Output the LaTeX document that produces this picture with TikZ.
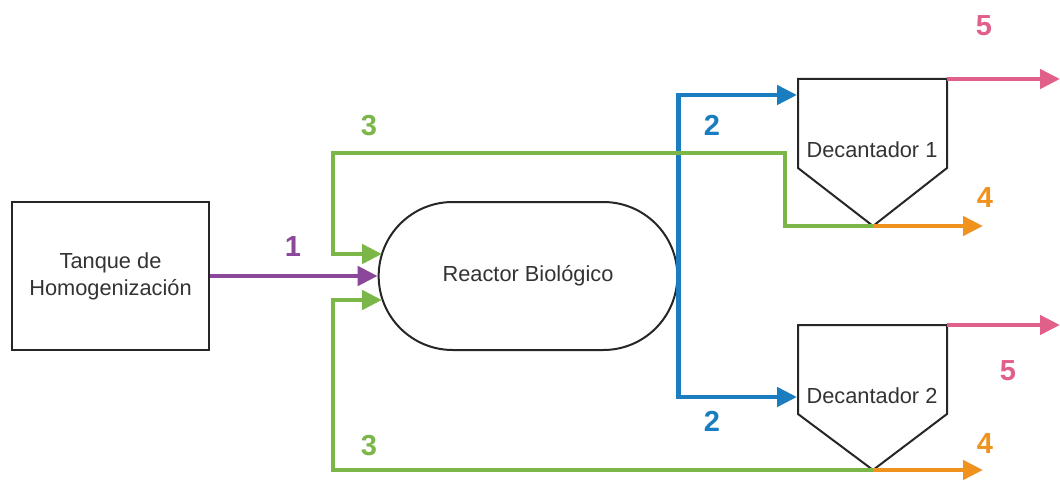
\documentclass[tikz,border=0pt]{standalone}
\usepackage{fontspec}
\setmainfont{Liberation Sans}
\usetikzlibrary{arrows.meta,shapes.misc}
\definecolor{flowpurple}{HTML}{8B4799}
\definecolor{flowgreen}{HTML}{7AB648}
\definecolor{flowblue}{HTML}{1A7DC0}
\definecolor{flowpink}{HTML}{E0608A}
\definecolor{floworange}{HTML}{F0921E}
\definecolor{inktext}{HTML}{333333}
\tikzset{
  unitbox/.style={draw=black!85, line width=1pt, fill=white, text=inktext,
    align=center, font=\fontsize{10.9}{13.5}\selectfont},
  unitline/.style={draw=black!85, line width=1pt, line join=miter},
  flow/.style={line width=2.3pt, -{Triangle[length=10pt,width=9.5pt]}},
  streamno/.style={font=\fontsize{14.5}{15}\selectfont\bfseries},
}
\begin{document}
\begin{tikzpicture}[x=0.5pt,y=-0.5pt]
\useasboundingbox (0,0) rectangle (1060,481);

% equipos
\node[unitbox, minimum width=98.5pt, minimum height=74pt] (tanque) at (110.5,276)
  {Tanque de\\Homogenización};
\node[unitbox, rounded rectangle, minimum width=156pt, minimum height=74pt] (reactor)
  at (528,276) {Reactor Biológico};

% decantador 1
\coordinate (d1tl) at (798,79);
\coordinate (d1tr) at (947,79);
\coordinate (d1tip) at (873,226);
\draw[unitline] (d1tl) -- (d1tr) -- (947,168) -- (d1tip) -- (798,168) -- cycle;
\node[text=inktext, font=\fontsize{10.9}{13}\selectfont] (dec1) at (872,150) {Decantador 1};

% decantador 2
\coordinate (d2tl) at (798,325);
\coordinate (d2tr) at (947,325);
\coordinate (d2tip) at (873,470);
\draw[unitline] (d2tl) -- (d2tr) -- (947,414) -- (d2tip) -- (798,414) -- cycle;
\node[text=inktext, font=\fontsize{10.9}{13}\selectfont] (dec2) at (872,396) {Decantador 2};

% corriente 1
\draw[flow, flowpurple] (tanque.east) -- (reactor.west);
\node[streamno, flowpurple] (n1) at (293,247) {1};

% corriente 2
\coordinate (d1in) at (797,95);
\coordinate (d2in) at (797,397);
\draw[flow, flowblue] (reactor.east) |- (d1in);
\draw[flow, flowblue] (reactor.east) |- (d2in);
\node[streamno, flowblue] (n2a) at (712,125) {2};
\node[streamno, flowblue] (n2b) at (712,421) {2};

% corriente 3 (recirculacion)
\coordinate (r3a) at (382,254);
\coordinate (r3b) at (382,300);
\draw[flow, flowgreen] (d1tip) -- (785,226) -- (785,153) -- (333,153) |- (r3a);
\draw[flow, flowgreen] (d2tip) -- (333,470) |- (r3b);
\node[streamno, flowgreen] (n3a) at (369,126) {3};
\node[streamno, flowgreen] (n3b) at (369,446) {3};

% corriente 4
\coordinate (out4a) at (983,226);
\coordinate (out4b) at (983,470);
\draw[flow, floworange] (d1tip) -- (out4a);
\draw[flow, floworange] (d2tip) -- (out4b);
\node[streamno, floworange] (n4a) at (985,198) {4};
\node[streamno, floworange] (n4b) at (985,444) {4};

% corriente 5
\coordinate (out5a) at (1060,79);
\coordinate (out5b) at (1060,325);
\draw[flow, flowpink] (d1tr) -- (out5a);
\draw[flow, flowpink] (d2tr) -- (out5b);
\node[streamno, flowpink] (n5a) at (984,26) {5};
\node[streamno, flowpink] (n5b) at (1008,371) {5};
\end{tikzpicture}
\end{document}
